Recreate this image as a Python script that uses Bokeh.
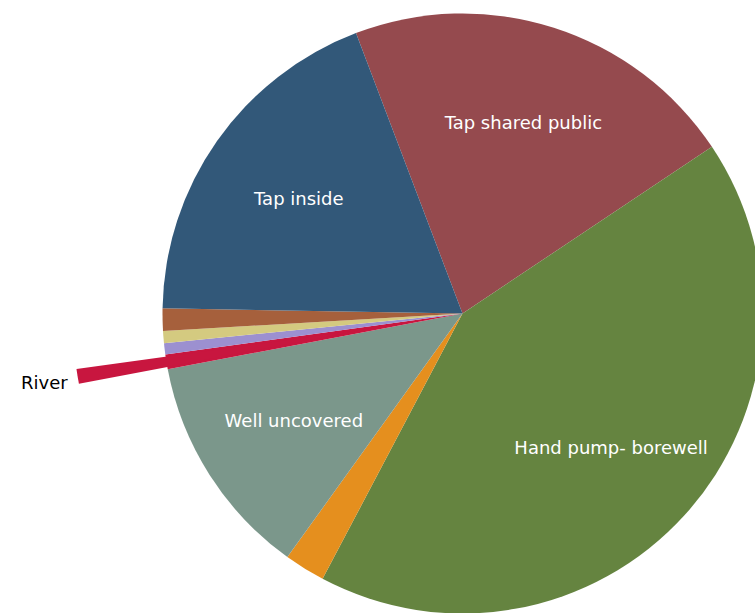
import math
from bokeh.plotting import figure
from bokeh.models import ColumnDataSource
from bokeh.core.properties import value
from bokeh.embed import file_html
from bokeh.resources import INLINE

# Data (percent shares), clockwise order from the top
categories = ["Tap shared public", "Hand pump- borewell", "Tube well", "Well uncovered",
              "River", "Tanker", "Well covered", "Other", "Tap inside"]
shares = [21.4, 42.1, 2.2, 12.1, 0.8, 0.6, 0.65, 1.2, 18.95]
colors = ["#954a4e", "#658440", "#e58f1e", "#7b978b", "#c8163f",
          "#9c90d0", "#d4ca80", "#a6603c", "#325879"]
inside_labels = ["Tap shared public", "Hand pump- borewell", "Well uncovered", "Tap inside"]
outside_labels = ["River"]
exploded = ["River"]

radius = 300
start_deg = 110.8
explode_dist = 90

total = sum(shares)
starts, ends, mids = [], [], []
cum = 0.0
for v in shares:
    a0 = start_deg - cum / total * 360.0
    a1 = a0 - v / total * 360.0
    cum += v
    starts.append(math.radians(a1))
    ends.append(math.radians(a0))
    mids.append(math.radians((a0 + a1) / 2))

src = ColumnDataSource(dict(x=[0] * len(shares), y=[0] * len(shares), start=starts,
                            end=ends, color=colors, cat=categories))

p = figure(width=755, height=613, x_range=(-462, 293), y_range=(-300, 313),
           output_backend="svg", toolbar_location=None,
           x_axis_type=None, y_axis_type=None, min_border=0)
p.outline_line_color = None
p.grid.visible = False
p.background_fill_color = "white"

p.wedge(x="x", y="y", radius=radius, start_angle="start", end_angle="end",
        direction="anticlock", fill_color="color", line_color=None, source=src)

# exploded copies of the pulled-out slices
ex = dict(x=[], y=[], start=[], end=[], color=[])
for i, cat in enumerate(categories):
    if cat in exploded:
        ex["x"].append(explode_dist * math.cos(mids[i]))
        ex["y"].append(explode_dist * math.sin(mids[i]))
        ex["start"].append(starts[i])
        ex["end"].append(ends[i])
        ex["color"].append(colors[i])
p.wedge(x="x", y="y", radius=radius, start_angle="start", end_angle="end",
        direction="anticlock", fill_color="color", line_color=None,
        source=ColumnDataSource(ex))

# inside labels
lx, ly, lt = [], [], []
for i, cat in enumerate(categories):
    if cat in inside_labels:
        lx.append(radius * 2 / 3 * math.cos(mids[i]))
        ly.append(radius * 2 / 3 * math.sin(mids[i]))
        lt.append(cat)
p.text(x=lx, y=ly, text=lt, text_color="white", text_font=value("DejaVu Sans"),
       text_font_size="18px", text_align="center", text_baseline="middle")

# outside labels
ox, oy, ot = [], [], []
for i, cat in enumerate(categories):
    if cat in outside_labels:
        d = radius + (explode_dist if cat in exploded else 0)
        ox.append(d * math.cos(mids[i]))
        oy.append(d * math.sin(mids[i]))
        ot.append(cat)
p.text(x=ox, y=oy, text=ot, text_color="black", text_font=value("DejaVu Sans"),
       text_font_size="18px", text_align="right", text_baseline="middle",
       x_offset=-10, y_offset=6)

open("out.html", "w").write(file_html(p, INLINE))
